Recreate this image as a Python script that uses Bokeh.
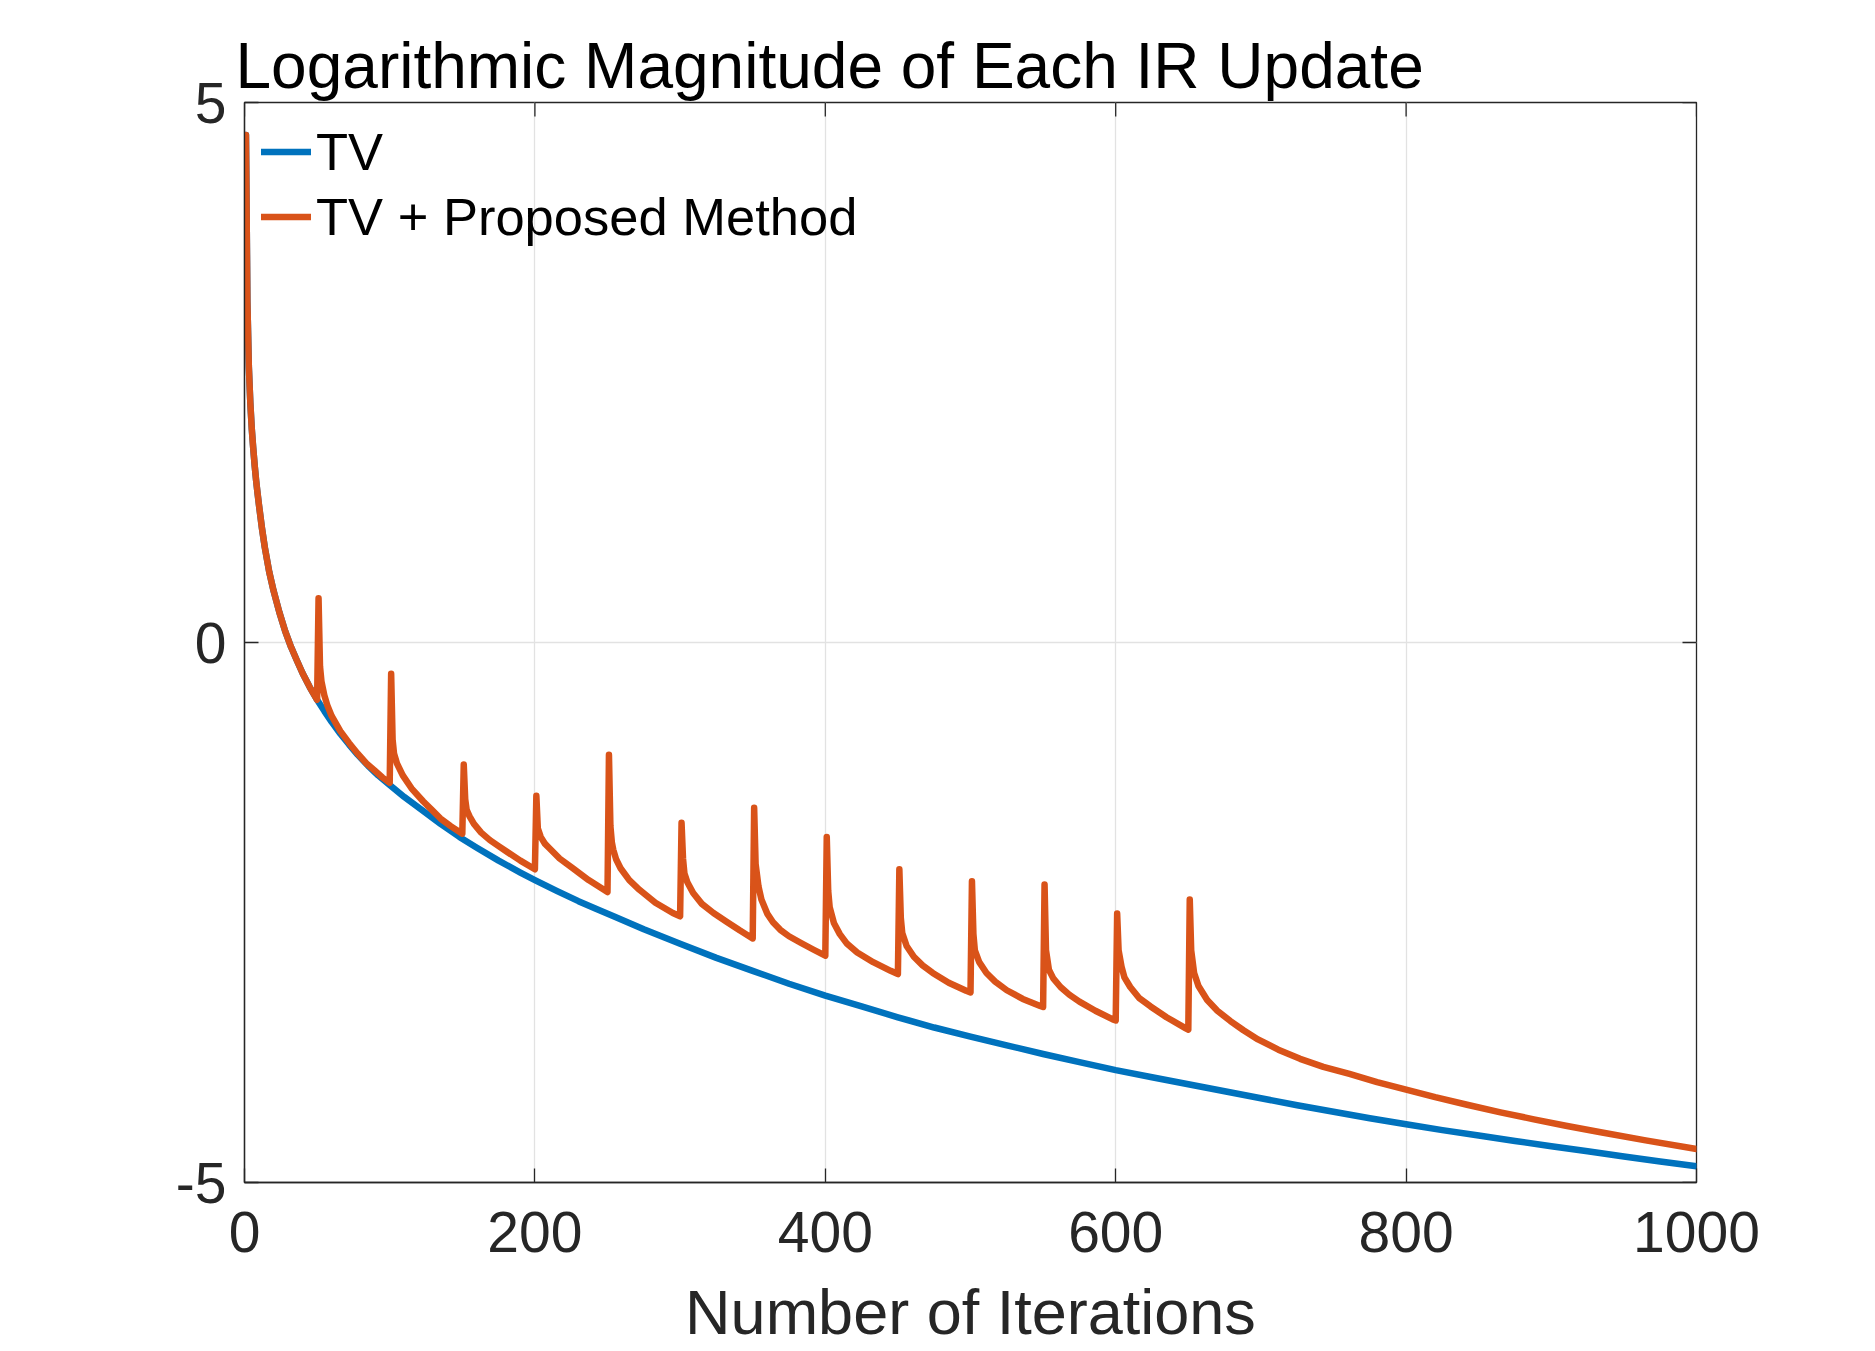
from bokeh.plotting import figure
from bokeh.models import Range1d, FixedTicker, Legend, LegendItem
from bokeh.embed import file_html
from bokeh.resources import INLINE

# ---------------- data ----------------
title_text = "Logarithmic Magnitude of Each IR Update"
x_label = "Number of Iterations"
series_names = ["TV", "TV + Proposed Method"]
x_ticks = [0, 200, 400, 600, 800, 1000]
y_ticks = [-5, 0, 5]
y_tick_labels = {-5: "-5", 0: "0", 5: "5"}

tv_x = [1, 2, 3, 4, 5, 6, 7, 8, 9, 10, 12, 14, 17, 20, 24, 28, 32, 36, 40, 45, 50,
        55, 60, 66, 72, 78, 85, 92, 100, 110, 123, 135, 148, 160,
        175, 190, 200, 215, 230, 242, 255, 275, 300, 325, 350, 375, 400,
        425, 450, 475, 500, 525, 550, 575, 600, 625, 650, 675, 700, 725,
        750, 775, 800, 825, 850, 875, 900, 925, 950, 975, 1000]
tv_y = [4.70, 3.15, 2.55, 2.22, 1.98, 1.80, 1.64, 1.50, 1.38, 1.27, 1.06,
        0.88, 0.655, 0.48, 0.28, 0.105, -0.04, -0.165, -0.285, -0.415, -0.53,
        -0.635, -0.735, -0.845, -0.945, -1.04, -1.14, -1.23, -1.32,
        -1.43, -1.56, -1.68, -1.80, -1.90, -2.02, -2.13, -2.20,
        -2.30, -2.395, -2.465, -2.54, -2.655, -2.79, -2.92, -3.04, -3.16,
        -3.27, -3.37, -3.47, -3.565, -3.65, -3.73, -3.81, -3.885, -3.96,
        -4.025, -4.09, -4.155, -4.22, -4.285, -4.345, -4.405, -4.46, -4.515,
        -4.565, -4.615, -4.665, -4.71, -4.76, -4.805, -4.85]

prop_x = [1, 2, 3, 4, 5, 6, 7, 8, 9, 10, 12, 14, 17, 20, 24, 28, 32, 36, 40, 45, 50,
          51, 52, 53, 55, 57, 60, 66, 72, 78, 84, 90, 95, 100,
          101, 102, 103, 105, 109, 115, 123, 129, 135, 142, 150,
          151, 152, 153, 155, 158, 163, 169, 175, 181, 190, 200,
          201, 202, 204, 207, 210, 217, 226, 237, 250,
          251, 252, 253, 254, 256, 259, 265, 272, 283, 295, 300,
          301, 302, 303, 305, 309, 315, 323, 332, 341, 350,
          351, 352, 354, 356, 360, 364, 369, 375, 383, 392, 400,
          401, 402, 403, 406, 410, 415, 422, 433, 445, 450,
          451, 452, 453, 456, 461, 467, 474, 485, 497, 500,
          501, 502, 503, 506, 511, 517, 525, 536, 548, 550,
          551, 552, 554, 557, 562, 568, 575, 586, 598, 600,
          601, 602, 604, 606, 610, 616, 624, 635, 648, 650,
          651, 652, 654, 657, 663, 670, 679, 688, 698, 712, 727, 743, 761,
          780, 800, 820, 842, 865, 888, 910, 934, 965, 1000]
prop_y = [4.70, 3.15, 2.55, 2.22, 1.98, 1.80, 1.64, 1.50, 1.38, 1.27, 1.06,
          0.88, 0.655, 0.48, 0.28, 0.105, -0.04, -0.165, -0.285, -0.415, -0.53,
          0.41, -0.22, -0.36, -0.49, -0.58, -0.68, -0.82, -0.93, -1.03,
          -1.12, -1.19, -1.25, -1.30,
          -0.29, -0.90, -1.03, -1.12, -1.23, -1.35, -1.47, -1.55, -1.63,
          -1.70, -1.77,
          -1.13, -1.45, -1.55, -1.61, -1.68, -1.76, -1.83, -1.885, -1.94,
          -2.02, -2.10,
          -1.42, -1.72, -1.80, -1.865, -1.905, -2.00, -2.09, -2.20, -2.31,
          -1.04, -1.70, -1.85, -1.92, -2.01, -2.09, -2.20, -2.29, -2.41,
          -2.505, -2.535,
          -1.67, -2.00, -2.14, -2.22, -2.32, -2.42, -2.505, -2.585, -2.665,
          -2.74,
          -1.53, -2.05, -2.26, -2.38, -2.51, -2.59, -2.66, -2.72, -2.78,
          -2.845, -2.90,
          -1.80, -2.30, -2.45, -2.60, -2.70, -2.79, -2.87, -2.96, -3.04,
          -3.07,
          -2.10, -2.55, -2.69, -2.81, -2.91, -2.99, -3.06, -3.15, -3.225,
          -3.24,
          -2.21, -2.70, -2.85, -2.96, -3.06, -3.14, -3.22, -3.30, -3.365,
          -3.375,
          -2.24, -2.85, -3.03, -3.11, -3.19, -3.26, -3.325, -3.41, -3.49,
          -3.50,
          -2.51, -2.85, -3.00, -3.10, -3.19, -3.29, -3.37, -3.47, -3.57,
          -3.585,
          -2.38, -2.85, -3.06, -3.18, -3.31, -3.41, -3.505, -3.59, -3.675,
          -3.77, -3.855, -3.93, -3.995, -4.07, -4.14, -4.21, -4.28, -4.35,
          -4.415, -4.475, -4.535, -4.61, -4.69]

# ---------------- styling ----------------
FONT = "Liberation Sans"
AX = "#262626"
BLUE = "#0072BD"
ORANGE = "#D95319"
GRID = "#e2e2e2"
W, H = 1875, 1351
LEFT, TOP, RIGHT, BOTTOM = 244, 102, 179, 169
FRAME_W = W - LEFT - RIGHT
FRAME_H = H - TOP - BOTTOM
TICK = 14  # px, inward ticks

p = figure(width=W, height=H, output_backend="svg", toolbar_location=None,
           x_range=Range1d(x_ticks[0], x_ticks[-1]),
           y_range=Range1d(y_ticks[0], y_ticks[-1]),
           min_border_left=LEFT, min_border_right=RIGHT,
           min_border_top=TOP, min_border_bottom=BOTTOM,
           background_fill_color="white", border_fill_color="white")

p.title.text = title_text
p.title.text_font = FONT
p.title.text_font_size = "64px"
p.title.text_font_style = "normal"
p.title.text_color = "black"
p.title.align = "left"
p.title.offset = -9
p.title.standoff = 2

p.outline_line_color = AX
p.outline_line_width = 1.3

for ax in (p.xaxis[0], p.yaxis[0]):
    ax.major_tick_in = TICK
    ax.major_tick_out = 0
    ax.minor_tick_line_color = None
    ax.major_tick_line_color = AX
    ax.major_tick_line_width = 1.3
    ax.axis_line_color = AX
    ax.axis_line_width = 1.3
    ax.major_label_text_font = FONT
    ax.major_label_text_font_size = "57px"
    ax.major_label_text_color = AX

p.xaxis[0].ticker = FixedTicker(ticks=x_ticks)
p.yaxis[0].ticker = FixedTicker(ticks=y_ticks)
p.yaxis[0].major_label_overrides = y_tick_labels
p.xaxis[0].major_label_standoff = 29
p.yaxis[0].major_label_standoff = 18
p.xaxis[0].axis_label = x_label
p.xaxis[0].axis_label_text_font = FONT
p.xaxis[0].axis_label_text_font_size = "63px"
p.xaxis[0].axis_label_text_font_style = "normal"
p.xaxis[0].axis_label_text_color = AX
p.xaxis[0].axis_label_standoff = 22

# mirrored inward ticks on the top and right edges of the box
dy = (y_ticks[-1] - y_ticks[0]) * TICK / FRAME_H
dx = (x_ticks[-1] - x_ticks[0]) * TICK / FRAME_W
p.segment(x0=x_ticks, y0=[y_ticks[-1]] * len(x_ticks),
          x1=x_ticks, y1=[y_ticks[-1] - dy] * len(x_ticks),
          line_color=AX, line_width=1.3)
p.segment(x0=[x_ticks[-1]] * len(y_ticks), y0=y_ticks,
          x1=[x_ticks[-1] - dx] * len(y_ticks), y1=y_ticks,
          line_color=AX, line_width=1.3)

p.xgrid.grid_line_color = GRID
p.ygrid.grid_line_color = GRID
p.xgrid.grid_line_width = 1.3
p.ygrid.grid_line_width = 1.3

r_tv = p.line(tv_x, tv_y, line_color=BLUE, line_width=6.5,
              line_join="round", line_cap="round")
r_prop = p.line(prop_x, prop_y, line_color=ORANGE, line_width=6.5,
                line_join="round", line_cap="round")

legend = Legend(items=[LegendItem(label=series_names[0], renderers=[r_tv]),
                       LegendItem(label=series_names[1], renderers=[r_prop])],
                location=(17, 933))
legend.glyph_width = 50
legend.glyph_height = 65
legend.label_height = 65
legend.label_standoff = 5
legend.padding = 0
legend.spacing = 0
legend.margin = 0
legend.border_line_color = None
legend.background_fill_alpha = 0
legend.label_text_font = FONT
legend.label_text_font_size = "52.5px"
legend.label_text_color = "black"
p.add_layout(legend)

open("out.html", "w").write(file_html(p, INLINE))
